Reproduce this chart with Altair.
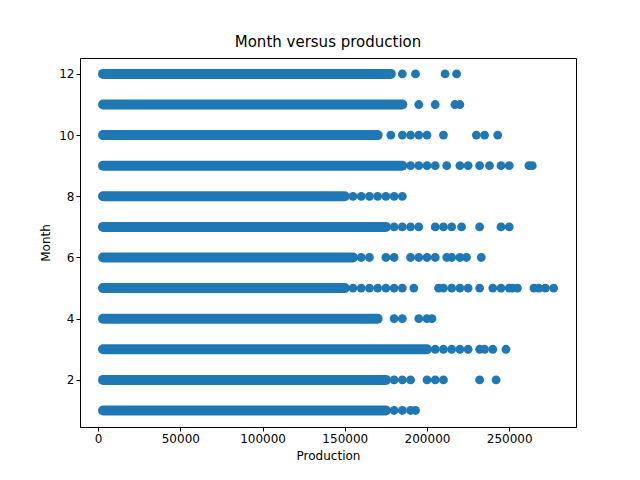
import altair as alt
import pandas as pd

months = [12, 11, 10, 9, 8, 7, 6, 5, 4, 3, 2, 1]
# dense band (many overlapping points) start/end per month
dense_start = [3000] * 12
dense_end = [178000, 185000, 170000, 185000, 150000, 175000, 155000, 150000, 170000, 200000, 175000, 175000]
# sparse points beyond the dense band
extras = {
    12: [185000, 193000, 211000, 218000],
    11: [195000, 205000, 217000, 220000],
    10: [178000, 185000, 190000, 195000, 200000, 210000, 230000, 235000, 243000],
    9: [190000, 195000, 200000, 205000, 212000, 220000, 225000, 232000, 238000, 245000, 250000, 262000, 264000],
    8: [155000, 160000, 165000, 170000, 175000, 180000, 185000],
    7: [180000, 185000, 190000, 195000, 205000, 210000, 215000, 221000, 232000, 245000, 250000],
    6: [160000, 165000, 175000, 180000, 190000, 195000, 200000, 205000, 212000, 215000, 220000, 224000, 233000],
    5: [155000, 160000, 165000, 170000, 175000, 180000, 185000, 192000, 207000, 210000, 215000, 220000,
        225000, 232000, 240000, 245000, 250000, 252000, 255000, 265000, 268000, 272000, 277000],
    4: [180000, 185000, 195000, 200000, 203000],
    3: [205000, 210000, 215000, 220000, 225000, 232000, 235000, 240000, 248000],
    2: [180000, 185000, 190000, 200000, 205000, 210000, 232000, 242000],
    1: [180000, 185000, 190000, 193000],
}

BLUE = "#1f77b4"
band_df = pd.DataFrame({"month": months, "start": dense_start, "end": dense_end})
pts_df = pd.DataFrame(
    [{"month": m, "production": v} for m, vals in extras.items() for v in vals]
)

x_scale = alt.Scale(domain=[-11000, 290600], nice=False, zero=False)
y_scale = alt.Scale(domain=[0.46, 12.52], nice=False, zero=False)
x_axis = alt.Axis(values=[0, 50000, 100000, 150000, 200000, 250000], format="d", grid=False,
                  title="Production")
y_axis = alt.Axis(values=[2, 4, 6, 8, 10, 12], format="d", grid=False, title="Month")

band = alt.Chart(band_df).mark_rule(strokeWidth=10, strokeCap="round", color=BLUE).encode(
    x=alt.X("start:Q", scale=x_scale, axis=x_axis),
    x2="end:Q",
    y=alt.Y("month:Q", scale=y_scale, axis=y_axis),
)
pts = alt.Chart(pts_df).mark_circle(size=78, opacity=1, color=BLUE).encode(
    x=alt.X("production:Q", scale=x_scale),
    y=alt.Y("month:Q", scale=y_scale),
)

chart = alt.layer(band, pts).properties(
    width=496, height=369,
    title=alt.TitleParams("Month versus production", fontSize=15, fontWeight="normal", offset=8),
    autosize=alt.AutoSizeParams(type="none"),
    padding={"left": 72, "top": 50, "right": 56, "bottom": 45},
).configure(font="DejaVu Sans").configure_view(stroke="black", strokeWidth=1).configure_axis(
    labelFontSize=12, titleFontSize=12, titleFontWeight="normal", labelColor="black",
    titleColor="black", domainColor="black", tickColor="black", tickSize=4, titlePadding=6,
)

chart.save("out.html", embed_options={"renderer": "svg", "actions": False})
